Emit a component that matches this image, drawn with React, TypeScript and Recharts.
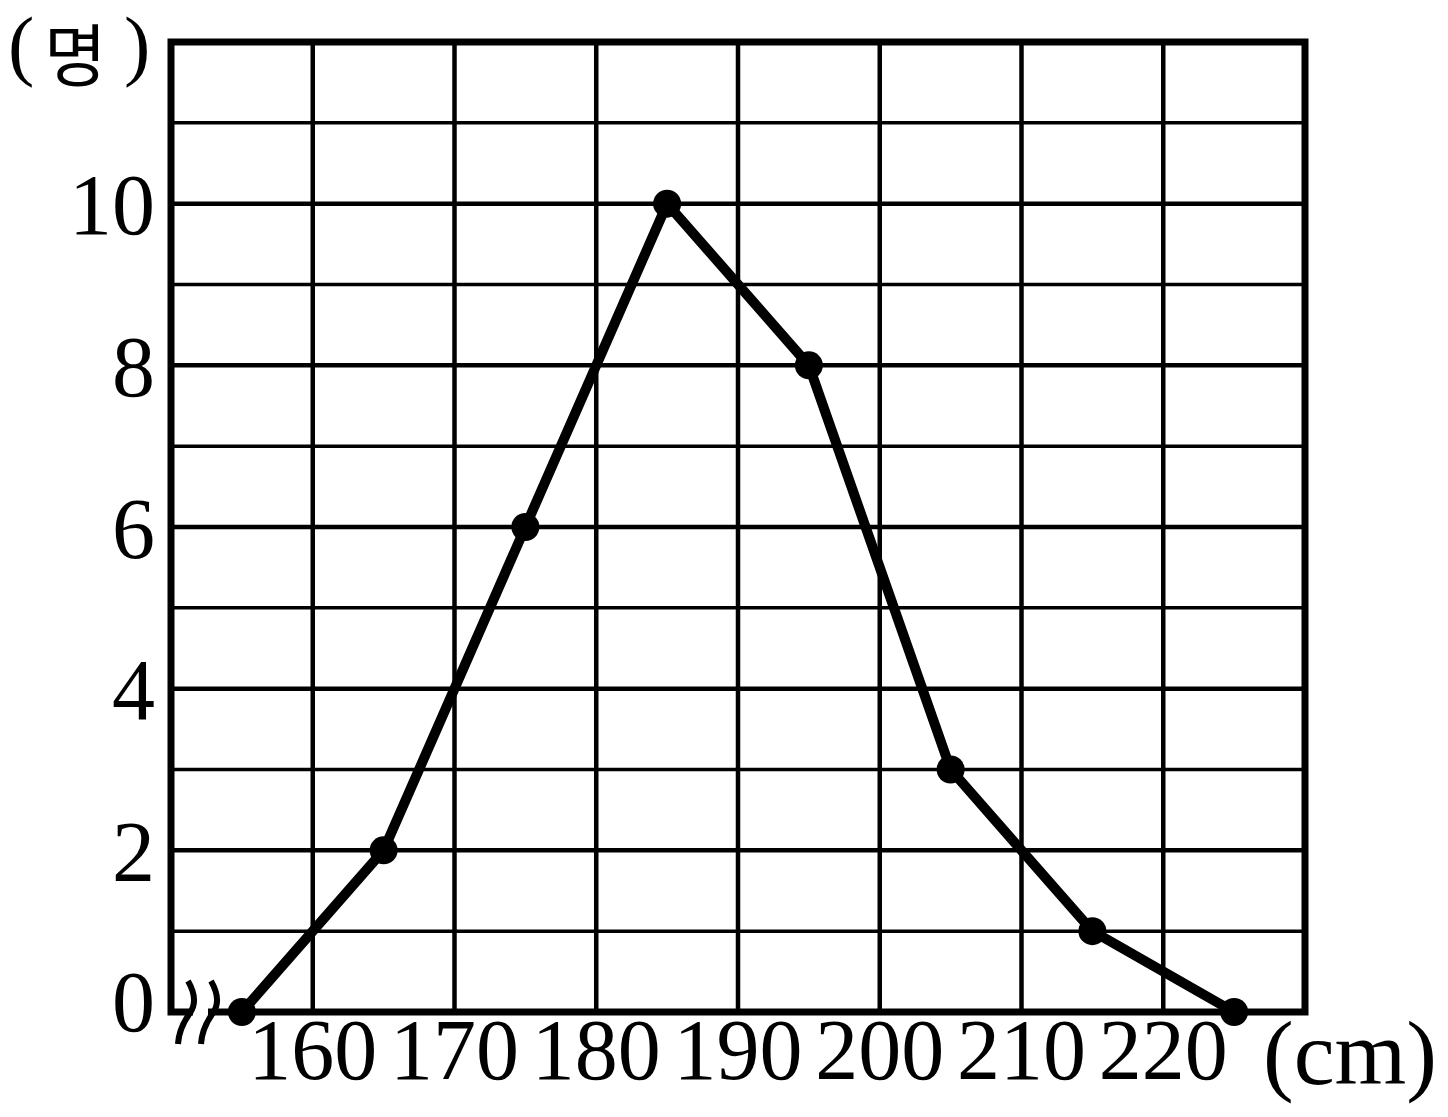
import { LineChart, Line, XAxis, YAxis, ReferenceLine, ReferenceArea } from "recharts";

// class midpoints (cm) and number of people
const heights = [155, 165, 175, 185, 195, 205, 215, 225];
const counts = [0, 2, 6, 10, 8, 3, 1, 0];

const xTicks = [160, 170, 180, 190, 200, 210, 220];
const yTicks = [0, 2, 4, 6, 8, 10];
const vGrid = [160, 170, 180, 190, 200, 210, 220];
const hGrid = [1, 2, 3, 4, 5, 6, 7, 8, 9, 10, 11];

const data = heights.map((h, i) => ({ h, n: counts[i] }));

const FONT = '"Liberation Serif", "Noto Sans CJK KR", serif';

function YTick({ x, y, payload }: any) {
  // the 0 label sits a little above the axis in the original
  const shift = payload.value === 0 ? -12 : 0;
  return (
    <text x={x} y={y + shift} dy="0.355em" textAnchor="end" fontSize={86} fontFamily={FONT} fill="#000">
      {payload.value}
    </text>
  );
}

// break mark on the x axis + unit labels, drawn over the chart
function Overlay() {
  return (
    <svg width={1448} height={1117} style={{ position: "absolute", left: 0, top: 0, pointerEvents: "none" }}>
      <rect x={193} y={1006} width={15} height={12} fill="#fff" />
      <path d="M188 981 Q199 1000 190 1013 Q179 1028 178 1044" fill="none" stroke="#000" strokeWidth={6} />
      <path d="M211 981 Q222 1000 213 1013 Q202 1028 201 1044" fill="none" stroke="#000" strokeWidth={6} />
      <text fontFamily={FONT} fill="#000">
        <tspan x={8} y={71} fontSize={79}>(</tspan>
        <tspan x={44} y={81} fontSize={68} fontFamily='"Noto Sans CJK KR", serif'>명</tspan>
        <tspan x={124} y={71} fontSize={79}>)</tspan>
      </text>
      <text x={1263} y={1084} fontSize={90} fontFamily={FONT} fill="#000" textLength={174} lengthAdjust="spacingAndGlyphs">
        (cm)
      </text>
    </svg>
  );
}

export default function App() {
  return (
    <div style={{ position: "absolute", left: 0, top: 0, width: 1448, height: 1117, background: "#fff" }}>
      <LineChart width={1448} height={1117} data={data} margin={{ top: 42, right: 143, left: 0, bottom: 0 }}>
        <XAxis
          dataKey="h"
          type="number"
          domain={[150, 230]}
          ticks={xTicks}
          height={105}
          tickSize={0}
          tickMargin={6}
          axisLine={false}
          tickLine={false}
          tick={{ fontSize: 86, fontFamily: FONT, fill: "#000" }}
          interval={0}
        />
        <YAxis
          type="number"
          domain={[0, 12]}
          ticks={yTicks}
          width={171}
          tickSize={0}
          tickMargin={16}
          axisLine={false}
          tickLine={false}
          tick={<YTick />}
          interval={0}
        />
        {vGrid.map((v) => (
          <ReferenceLine key={"v" + v} x={v} stroke="#000" strokeWidth={4.5} />
        ))}
        {hGrid.map((v) => (
          <ReferenceLine key={"h" + v} y={v} stroke="#000" strokeWidth={v % 2 === 0 ? 4.5 : 3.5} />
        ))}
        <ReferenceArea x1={150} x2={230} y1={0} y2={12} fill="none" fillOpacity={0} stroke="#000" strokeWidth={7} />
        <Line
          dataKey="n"
          stroke="#000"
          strokeWidth={10}
          dot={{ r: 14, fill: "#000", stroke: "#000", strokeWidth: 0 }}
          activeDot={false}
          isAnimationActive={false}
        />
      </LineChart>
      <Overlay />
    </div>
  );
}
